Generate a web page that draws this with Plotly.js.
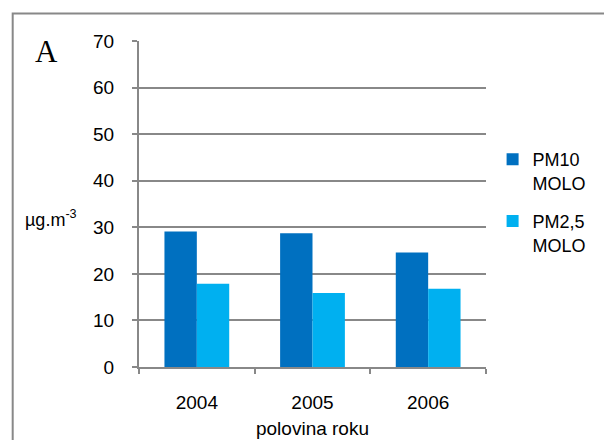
<!DOCTYPE html>
<html>
<head>
<meta charset="utf-8">
<script src="https://cdn.plot.ly/plotly-3.0.1.min.js"></script>
<style>html,body{margin:0;padding:0;background:#fff;}#chart{width:604px;height:440px;}</style>
</head>
<body>
<div id="chart"></div>
<script>
const categories = ["2004", "2005", "2006"];
const pm10 = [29.1, 28.7, 24.6];
const pm25 = [17.9, 15.9, 16.8];
const seriesNames = ["PM10<br>MOLO", "PM2,5<br>MOLO"];
const yTicks = [0, 10, 20, 30, 40, 50, 60, 70];

const F = "Liberation Sans, Arial, sans-serif";
const traces = [
  {type: "bar", x: categories, y: pm10, name: seriesNames[0], legendgroup: "a", marker: {color: "#0070C0"}},
  {type: "bar", x: categories, y: pm25, name: seriesNames[1], legendgroup: "b", marker: {color: "#00B0F0"}}
];
const layout = {
  width: 604, height: 440,
  margin: {l: 139, r: 112, t: 41, b: 73},
  paper_bgcolor: "#fff", plot_bgcolor: "#fff",
  font: {family: F, size: 19, color: "#000"},
  barmode: "group", bargap: 0.44, bargroupgap: 0,
  showlegend: true,
  legend: {x: 1.019, y: 0.693, xanchor: "left", yanchor: "top", valign: "top",
           traceorder: "grouped", tracegroupgap: 12,
           font: {family: F, size: 18, color: "#000"}, itemwidth: 30},
  xaxis: {type: "category", showline: true, linecolor: "#888", linewidth: 2,
          ticks: "outside", tickson: "boundaries", ticklen: 5, tickcolor: "#888", tickwidth: 2,
          showgrid: false, ticklabelstandoff: 17, tickfont: {size: 19},
          title: {text: "polovina roku", font: {family: F, size: 19}, standoff: 10}},
  yaxis: {range: [0, 70], tickvals: yTicks, showline: true, linecolor: "#888", linewidth: 2,
          ticks: "outside", ticklen: 5, tickcolor: "#888", tickwidth: 2,
          showgrid: true, gridcolor: "#888", gridwidth: 2, zeroline: false,
          ticklabelstandoff: 14, tickfont: {size: 19}},
  annotations: [
    {xref: "paper", yref: "paper", x: -0.306, y: 0.969, xanchor: "left", yanchor: "middle",
     text: "A", showarrow: false, font: {family: "Liberation Serif, Times New Roman, serif", size: 31, color: "#000"}},
    {xref: "paper", yref: "paper", x: -0.334, y: 0.457, xanchor: "left", yanchor: "middle",
     text: "µg.m<sup>-3</sup>", showarrow: false, font: {family: F, size: 18, color: "#000"}}
  ],
  shapes: [
    {type: "rect", xref: "paper", yref: "paper", x0: -0.364, x1: 1.35, y0: -0.3, y1: 1.084,
     line: {color: "#888", width: 2}, fillcolor: "rgba(0,0,0,0)"}
  ]
};
Plotly.newPlot("chart", traces, layout, {displayModeBar: false, staticPlot: true});
</script>
</body>
</html>
